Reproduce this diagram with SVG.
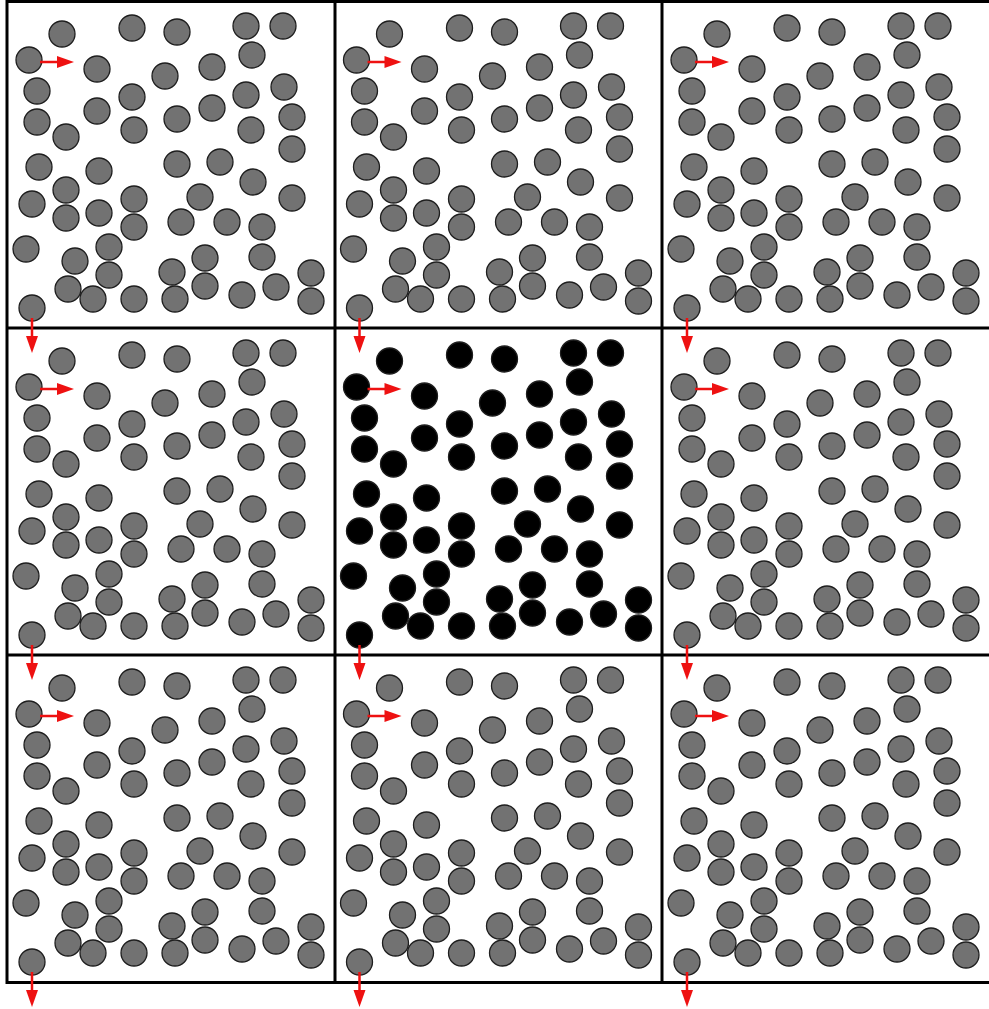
<svg xmlns="http://www.w3.org/2000/svg" xmlns:xlink="http://www.w3.org/1999/xlink" width="989" height="1009" viewBox="0 0 989 1009">
<style>
.gray{fill:#727272}
.black{fill:#000}
.balls circle{stroke:#1e1e1e;stroke-width:1.3}
.arr line{stroke:#ee1111;stroke-width:2.5}
.arr polygon{fill:#ee1111}
.grid{fill:none;stroke:#000;stroke-width:3}
</style>
<defs>
<g id="balls" class="balls">
<circle cx="62" cy="34" r="13"/><circle cx="132" cy="28" r="13"/><circle cx="177" cy="32" r="13"/><circle cx="246" cy="26" r="13"/><circle cx="283" cy="26" r="13"/>
<circle cx="29" cy="60" r="13"/><circle cx="97" cy="69" r="13"/><circle cx="165" cy="76" r="13"/><circle cx="212" cy="67" r="13"/><circle cx="252" cy="55" r="13"/>
<circle cx="37" cy="91" r="13"/><circle cx="132" cy="97" r="13"/><circle cx="97" cy="111" r="13"/><circle cx="177" cy="119" r="13"/><circle cx="212" cy="108" r="13"/>
<circle cx="246" cy="95" r="13"/><circle cx="284" cy="87" r="13"/><circle cx="37" cy="122" r="13"/><circle cx="66" cy="137" r="13"/><circle cx="134" cy="130" r="13"/>
<circle cx="251" cy="130" r="13"/><circle cx="292" cy="117" r="13"/><circle cx="292" cy="149" r="13"/><circle cx="39" cy="167" r="13"/><circle cx="99" cy="171" r="13"/>
<circle cx="177" cy="164" r="13"/><circle cx="220" cy="162" r="13"/><circle cx="253" cy="182" r="13"/><circle cx="32" cy="204" r="13"/><circle cx="66" cy="190" r="13"/>
<circle cx="66" cy="218" r="13"/><circle cx="99" cy="213" r="13"/><circle cx="134" cy="199" r="13"/><circle cx="134" cy="227" r="13"/><circle cx="200" cy="197" r="13"/>
<circle cx="181" cy="222" r="13"/><circle cx="227" cy="222" r="13"/><circle cx="262" cy="227" r="13"/><circle cx="292" cy="198" r="13"/><circle cx="26" cy="249" r="13"/>
<circle cx="109" cy="247" r="13"/><circle cx="75" cy="261" r="13"/><circle cx="109" cy="275" r="13"/><circle cx="68" cy="289" r="13"/><circle cx="93" cy="299" r="13"/>
<circle cx="134" cy="299" r="13"/><circle cx="172" cy="272" r="13"/><circle cx="175" cy="299" r="13"/><circle cx="205" cy="258" r="13"/><circle cx="205" cy="286" r="13"/>
<circle cx="242" cy="295" r="13"/><circle cx="262" cy="257" r="13"/><circle cx="276" cy="287" r="13"/><circle cx="311" cy="273" r="13"/><circle cx="311" cy="301" r="13"/>
<circle cx="32" cy="308" r="13"/>
</g>
<g id="arrows" class="arr">
<line x1="40" y1="62" x2="58" y2="62"/>
<polygon points="57,56 74,62 57,68"/>
<line x1="32" y1="318" x2="32" y2="337"/>
<polygon points="26,336 32,353 38,336"/>
</g>
</defs>
<g id="cells">
<g id="cell-0-0"><use xlink:href="#balls" class="gray"/></g>
<g id="cell-0-1"><use xlink:href="#balls" class="gray" transform="translate(327.5,0)"/></g>
<g id="cell-0-2"><use xlink:href="#balls" class="gray" transform="translate(655,0)"/></g>
<g id="cell-1-0"><use xlink:href="#balls" class="gray" transform="translate(0,327)"/></g>
<g id="cell-1-1"><use xlink:href="#balls" class="black" transform="translate(327.5,327)"/></g>
<g id="cell-1-2"><use xlink:href="#balls" class="gray" transform="translate(655,327)"/></g>
<g id="cell-2-0"><use xlink:href="#balls" class="gray" transform="translate(0,654)"/></g>
<g id="cell-2-1"><use xlink:href="#balls" class="gray" transform="translate(327.5,654)"/></g>
<g id="cell-2-2"><use xlink:href="#balls" class="gray" transform="translate(655,654)"/></g>
</g>
<g id="grid" class="grid">
<rect x="7" y="1.5" width="984" height="981"/>
<line x1="335" y1="1.5" x2="335" y2="982.5"/>
<line x1="662" y1="1.5" x2="662" y2="982.5"/>
<line x1="7" y1="328" x2="991" y2="328"/>
<line x1="7" y1="655" x2="991" y2="655"/>
</g>
<g id="connectors">
<use xlink:href="#arrows"/>
<use xlink:href="#arrows" transform="translate(327.5,0)"/>
<use xlink:href="#arrows" transform="translate(655,0)"/>
<use xlink:href="#arrows" transform="translate(0,327)"/>
<use xlink:href="#arrows" transform="translate(327.5,327)"/>
<use xlink:href="#arrows" transform="translate(655,327)"/>
<use xlink:href="#arrows" transform="translate(0,654)"/>
<use xlink:href="#arrows" transform="translate(327.5,654)"/>
<use xlink:href="#arrows" transform="translate(655,654)"/>
</g>
</svg>
